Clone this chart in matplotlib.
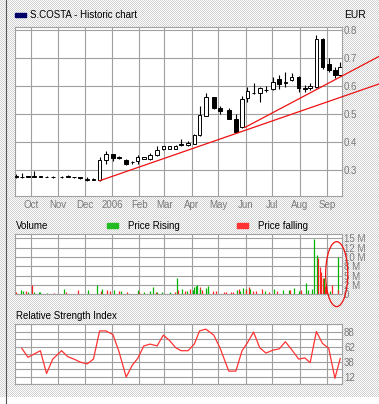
import numpy as np
import pandas as pd
import matplotlib
matplotlib.use('Agg')
import matplotlib.pyplot as plt
import matplotlib.dates as mdates
from matplotlib.patches import Rectangle, Ellipse
from matplotlib.lines import Line2D

plt.rcParams['font.family'] = ['Liberation Sans', 'DejaVu Sans']

# weekly candles
week_dates = ['2005-09-15', '2005-09-21', '2005-09-28', '2005-10-05', '2005-10-12', '2005-10-19',
              '2005-10-26', '2005-11-05', '2005-11-12', '2005-11-19', '2005-11-26', '2005-12-04',
              '2005-12-11', '2005-12-18', '2005-12-25', '2006-01-02', '2006-01-09', '2006-01-17',
              '2006-01-24', '2006-01-30', '2006-02-06', '2006-02-13', '2006-02-21', '2006-02-28',
              '2006-03-07', '2006-03-14', '2006-03-20', '2006-03-28', '2006-04-04', '2006-04-10',
              '2006-04-17', '2006-04-26', '2006-05-03', '2006-05-13', '2006-05-21', '2006-05-28',
              '2006-06-03', '2006-06-10', '2006-06-17', '2006-06-24', '2006-07-02', '2006-07-09',
              '2006-07-16', '2006-07-23', '2006-07-31', '2006-08-07', '2006-08-13', '2006-08-20',
              '2006-08-27', '2006-09-03', '2006-09-10', '2006-09-16']
opens = [0.279, 0.278, 0.279, 0.280, 0.279, 0.278, 0.278, 0.277, 0.279, 0.276, 0.275, 0.266,
         0.266, 0.265, 0.338, 0.357, 0.346, 0.337, 0.328, 0.333, 0.342, 0.341, 0.356, 0.375,
         0.376, 0.377, 0.395, 0.390, 0.395, 0.426, 0.494, 0.560, 0.523, 0.515, 0.484, 0.454,
         0.557, 0.573, 0.576, 0.584, 0.590, 0.624, 0.610, 0.620, 0.632, 0.592, 0.591, 0.597,
         0.768, 0.676, 0.657, 0.638]
highs = [0.287, 0.290, 0.281, 0.296, 0.280, 0.280, 0.279, 0.279, 0.284, 0.278, 0.277, 0.275,
         0.272, 0.348, 0.369, 0.359, 0.350, 0.340, 0.333, 0.356, 0.348, 0.360, 0.386, 0.388,
         0.388, 0.389, 0.412, 0.403, 0.428, 0.528, 0.575, 0.562, 0.530, 0.522, 0.500, 0.565,
         0.597, 0.612, 0.597, 0.600, 0.630, 0.640, 0.650, 0.647, 0.634, 0.603, 0.612, 0.780,
         0.770, 0.698, 0.668, 0.685]
lows = [0.274, 0.274, 0.276, 0.275, 0.276, 0.275, 0.274, 0.273, 0.275, 0.273, 0.270, 0.262,
        0.265, 0.263, 0.324, 0.334, 0.342, 0.320, 0.323, 0.324, 0.340, 0.337, 0.352, 0.372,
        0.374, 0.375, 0.386, 0.386, 0.393, 0.422, 0.492, 0.518, 0.499, 0.483, 0.434, 0.452,
        0.541, 0.572, 0.543, 0.578, 0.585, 0.590, 0.595, 0.617, 0.578, 0.577, 0.584, 0.594,
        0.660, 0.648, 0.627, 0.636]
closes = [0.276, 0.275, 0.277, 0.277, 0.277, 0.276, 0.275, 0.275, 0.277, 0.275, 0.271, 0.270,
          0.270, 0.338, 0.357, 0.345, 0.345, 0.322, 0.330, 0.348, 0.346, 0.356, 0.372, 0.385,
          0.385, 0.386, 0.390, 0.398, 0.425, 0.496, 0.560, 0.522, 0.510, 0.484, 0.437, 0.553,
          0.581, 0.576, 0.594, 0.587, 0.614, 0.606, 0.613, 0.632, 0.593, 0.590, 0.599, 0.766,
          0.668, 0.658, 0.638, 0.667]

# support lines (start date, start price, end date, end price)
trend_lines = [('2005-12-18', 0.263, '2006-10-30', 0.607),
               ('2006-05-31', 0.452, '2006-10-30', 0.705)]

# daily volume (millions), True = price rising
vol_dates = ['2005-09-14', '2005-09-20', '2005-09-22', '2005-09-26', '2005-09-28', '2005-10-03',
             '2005-10-05', '2005-10-10', '2005-10-12', '2005-10-19', '2005-10-27', '2005-11-08',
             '2005-11-10', '2005-11-23', '2005-12-05', '2005-12-15', '2005-12-19', '2005-12-21',
             '2005-12-26', '2005-12-30', '2006-01-03', '2006-01-09', '2006-01-11', '2006-01-18',
             '2006-01-30', '2006-02-01', '2006-02-06', '2006-02-13', '2006-02-16', '2006-02-20',
             '2006-02-21', '2006-02-27', '2006-03-07', '2006-03-13', '2006-03-15', '2006-03-17',
             '2006-03-21', '2006-03-24', '2006-03-27', '2006-03-30', '2006-04-03', '2006-04-04',
             '2006-04-06', '2006-04-07', '2006-04-10', '2006-04-11', '2006-04-13', '2006-04-17',
             '2006-04-19', '2006-04-20', '2006-04-25', '2006-04-28', '2006-05-08', '2006-05-10',
             '2006-05-15', '2006-05-18', '2006-05-22', '2006-05-24', '2006-05-26', '2006-05-29',
             '2006-06-01', '2006-06-02', '2006-06-05', '2006-06-06', '2006-06-09', '2006-06-13',
             '2006-06-20', '2006-06-23', '2006-06-28', '2006-07-03', '2006-07-07', '2006-07-13',
             '2006-07-20', '2006-07-21', '2006-07-26', '2006-07-31', '2006-08-03', '2006-08-08',
             '2006-08-11', '2006-08-15', '2006-08-17', '2006-08-21', '2006-08-22', '2006-08-24',
             '2006-08-25', '2006-08-28', '2006-08-29', '2006-08-30', '2006-08-31', '2006-09-04',
             '2006-09-07', '2006-09-13', '2006-09-14']
vol_values = [0.7, 1.2, 0.9, 0.9, 0.7, 2.5, 0.7, 0.6, 0.6, 0.3, 0.3, 1.4,
              0.7, 1.2, 1.2, 2.4, 1.0, 1.4, 1.2, 1.0, 1.1, 0.9, 0.8, 0.7,
              1.2, 0.7, 0.7, 1.0, 1.9, 0.7, 0.7, 0.6, 0.7, 0.7, 4.3, 1.2,
              1.4, 1.0, 0.8, 1.4, 1.2, 1.9, 2.3, 2.5, 2.0, 1.4, 1.2, 1.6,
              2.2, 1.2, 1.0, 0.8, 0.6, 0.6, 0.6, 0.6, 1.2, 1.5, 1.0, 1.6,
              1.5, 1.2, 1.9, 1.4, 1.0, 0.8, 1.5, 1.0, 0.6, 1.3, 0.8, 1.2,
              1.2, 1.2, 1.7, 0.8, 1.2, 3.1, 1.2, 1.4, 14.8, 10.5, 9.8, 7.2,
              6.0, 4.3, 4.4, 2.2, 2.8, 0.9, 2.5, 10.1, 1.1]
vol_rising = [False, True, True, False, True, False, True, True, True, True, False, True,
              False, False, True, True, False, True, False, False, True, False, True, False,
              True, False, True, True, True, False, True, True, True, False, True, False,
              True, False, True, False, True, True, True, True, False, True, False, True,
              True, True, False, False, False, False, False, False, True, False, True, True,
              True, False, False, True, False, False, False, True, False, True, False, True,
              True, False, True, True, False, True, True, True, True, True, False, False,
              False, False, True, False, False, True, False, True, False]

# RSI, one value per candle from the second week
rsi_values = [60, 45, 50.5, 56, 18, 42, 56, 46, 42, 37, 34, 42, 89, 89, 83, 54, 12, 32, 43,
              64, 67, 64, 82, 73, 61, 56, 56, 67, 89, 92, 82, 61, 22, 22, 56, 69, 87, 61,
              52, 57, 59, 71, 58, 42, 44, 36, 88, 68, 60, 10, 43]

month_starts = ['2005-10-01', '2005-11-01', '2005-12-01', '2006-01-01', '2006-02-01', '2006-03-01',
                '2006-04-01', '2006-05-01', '2006-06-01', '2006-07-01', '2006-08-01', '2006-09-01']
month_labels = ['Oct', 'Nov', 'Dec', '2006', 'Feb', 'Mar', 'Apr', 'May', 'Jun', 'Jul', 'Aug', 'Sep']
price_ticks = [0.3, 0.4, 0.5, 0.6, 0.7, 0.8]
vol_ticks = [0, 2.5, 5, 7.5, 10, 12.5, 15]
vol_tick_labels = ['0', '2 M', '5 M', '8 M', '10 M', '12 M', '15 M']
rsi_ticks = [0, 12.5, 25, 37.5, 50, 62.5, 75, 87.5, 100]
rsi_tick_labels = ['', '12', '', '38', '', '62', '', '88', '']

W, H = 379, 404
FS = 7.0
GRID = '#a0a0a0'
LABEL = '#7a7a7a'

dates = pd.to_datetime(week_dates)
vdates = pd.to_datetime(vol_dates)
mstarts = pd.to_datetime(month_starts)
x0, x1 = pd.Timestamp('2005-09-13 08:00'), pd.Timestamp('2006-09-18')

fig = plt.figure(figsize=(W / 100, H / 100), dpi=100)
fig.patch.set_facecolor('white')

# dithered grey page background
yy, xx = np.mgrid[0:H, 0:W]
bg = np.where((xx + yy) % 2 == 0, 0.82, 1.0)
bg[397:, :] = 1.0
fig.figimage(np.dstack([bg, bg, bg]), 0, 0, origin='upper', zorder=-10)
fig.add_artist(Line2D([5.5 / W, 5.5 / W], [0, 1], color='#555555', lw=0.8))


def panel(top, bottom):
    ax = fig.add_axes([15 / W, 1 - bottom / H, 327 / W, (bottom - top) / H])
    ax.set_facecolor('white')
    for s in ax.spines.values():
        s.set_color(GRID)
        s.set_linewidth(0.8)
    ax.set_xlim(x0, x1)
    ax.set_xticks(mstarts)
    ax.yaxis.tick_right()
    ax.tick_params(length=0, labelsize=FS, labelcolor=LABEL, pad=1.5)
    ax.grid(True, color=GRID, lw=0.8)
    ax.set_axisbelow(True)
    return ax


# price panel
ax = panel(27, 196)
ax.set_ylim(0.2088, 0.8092)
ax.set_yticks(price_ticks)
ax.set_yticklabels([f'{p:.1f}' for p in price_ticks])
ax.set_xticklabels(month_labels)
ax.tick_params(axis='x', pad=3)

o, hi, lo, c = map(np.array, (opens, highs, lows, closes))
ax.vlines(dates, lo, hi, color='black', lw=0.8, zorder=3)
up = c >= o
ax.bar(dates, np.abs(c - o), bottom=np.minimum(o, c), width=4,
       color=np.where(up, 'white', 'black'), edgecolor='black', linewidth=0.7, zorder=4)
for d0, p0, d1, p1 in trend_lines:
    ax.plot(pd.to_datetime([d0, d1]), [p0, p1], color='#ee1111', lw=0.9,
            clip_on=False, zorder=5)

fig.add_artist(Rectangle((15 / W, 1 - 17.3 / H), 11 / W, 4.6 / H,
                         transform=fig.transFigure, color='#000066'))
fig.text(30 / W, 1 - 15 / H, 'S.COSTA - Historic chart', fontsize=FS, va='center')
fig.text(344 / W, 1 - 14.5 / H, 'EUR', fontsize=FS + 0.4, va='center')

# volume panel
axv = panel(234.3, 294.3)
axv.set_ylim(0, 16.07)
axv.set_yticks(vol_ticks)
axv.set_yticklabels(vol_tick_labels)
axv.set_xticklabels([])
vcol = np.where(vol_rising, '#00b400', '#ff2222')
axv.vlines(vdates, 0, vol_values, colors=vcol, lw=0.9, zorder=3)
axv.add_patch(Ellipse((mdates.date2num(pd.Timestamp('2006-09-12')), 5.4), 25, 17.4,
                      fill=False, ec='#ee1111', lw=0.9, clip_on=False, zorder=5))

fig.text(16 / W, 1 - 225.7 / H, 'Volume', fontsize=FS, va='center')
fig.add_artist(Rectangle((107 / W, 1 - 228.5 / H), 10.5 / W, 5 / H,
                         transform=fig.transFigure, color='#22bb22'))
fig.text(127.5 / W, 1 - 225.7 / H, 'Price Rising', fontsize=FS, va='center')
fig.add_artist(Rectangle((237 / W, 1 - 228.5 / H), 10.5 / W, 5 / H,
                         transform=fig.transFigure, color='#ff3333'))
fig.text(257.5 / W, 1 - 225.7 / H, 'Price falling', fontsize=FS, va='center')

# RSI panel
axr = panel(324.3, 384.3)
axr.set_ylim(0, 100)
axr.set_yticks(rsi_ticks)
axr.set_yticklabels(rsi_tick_labels)
axr.set_xticklabels([])
axr.plot(dates[1:], rsi_values, color='#ff3333', lw=0.9, zorder=3)
fig.text(16 / W, 1 - 315.7 / H, 'Relative Strength Index', fontsize=FS, va='center')

fig.savefig('out.png', dpi=100)
